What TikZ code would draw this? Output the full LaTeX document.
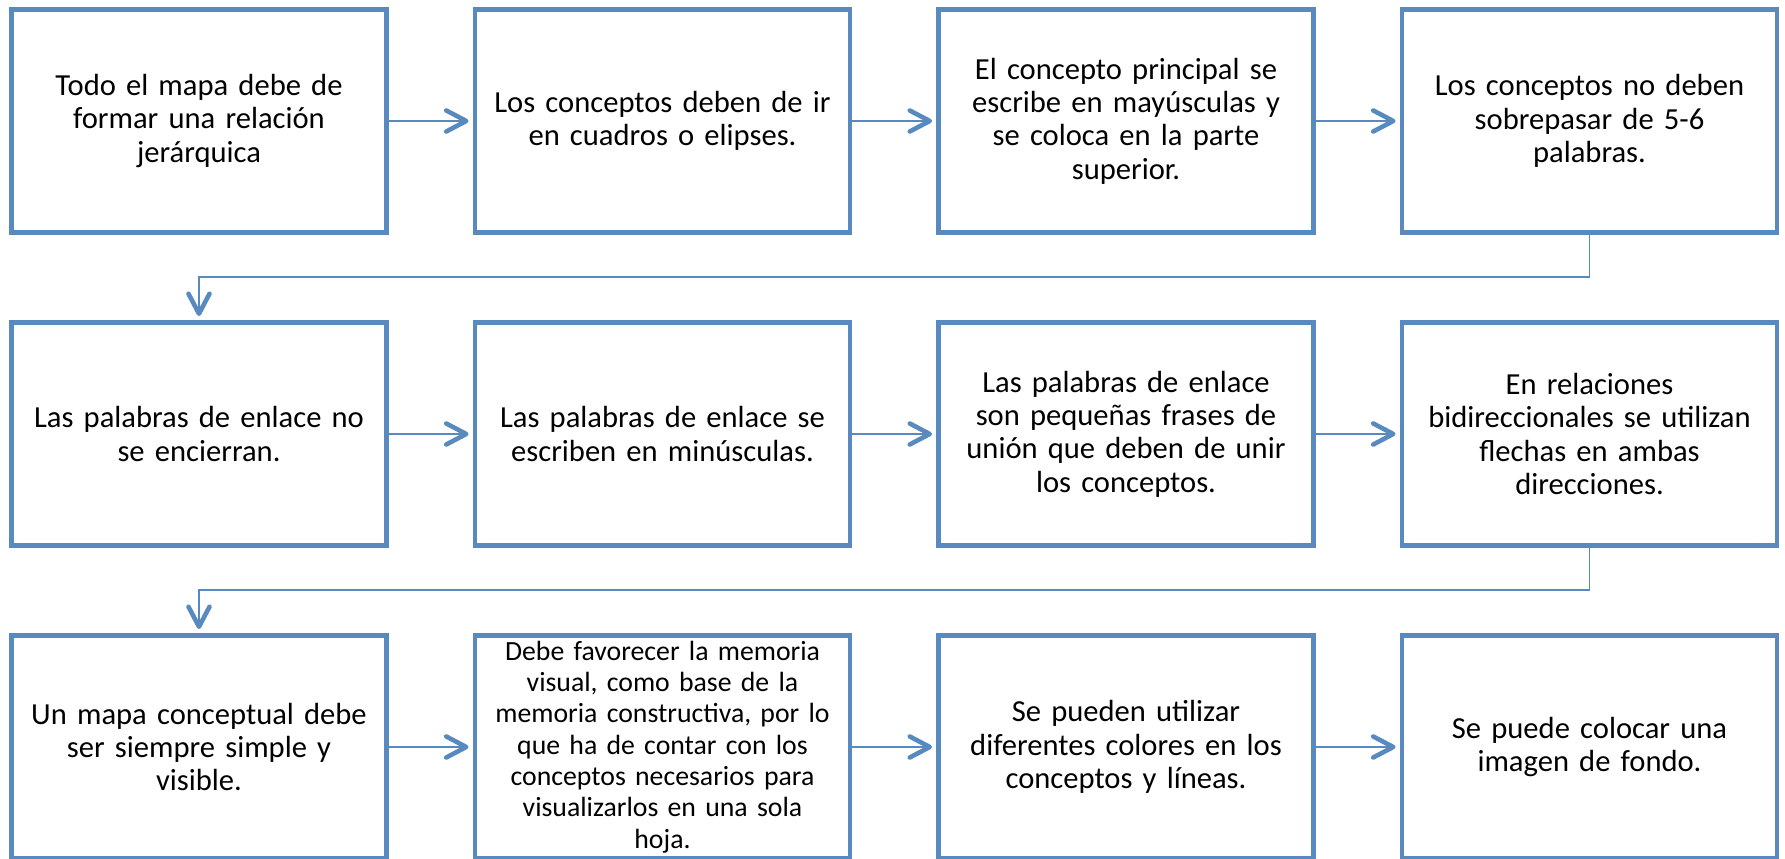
\documentclass[tikz,border=0pt]{standalone}
\usepackage{fontspec}
\setmainfont{Carlito}
\usepackage{tikz}
\usetikzlibrary{positioning,arrows.meta}
\definecolor{mapblue}{RGB}{88,138,192}
\tikzset{
  flow/.style={-{Straight Barb[length=4mm, width=4.2mm, line width=2.6pt, round]},
    line width=1.1pt, draw=mapblue, shorten >=0.08cm},
  concept/.style={draw=mapblue, fill=white, line width=2.8pt,
    minimum width=7.5cm, minimum height=4.46cm, text width=7.3cm,
    align=center, inner sep=0pt, font=\fontsize{17.4}{19}\selectfont}
}

\begin{document}
\begin{tikzpicture}
  \useasboundingbox (0,0) rectangle (35.7,17.18);

  % first row
  \node[concept] (jerarquia) at (3.98,14.76)
    {Todo el mapa debe de\\formar una relación\\jerárquica};
  \node[concept] (elipses) at (13.25,14.76)
    {Los conceptos deben de ir\\en cuadros o elipses.};
  \node[concept] (mayusculas) at (22.52,14.76)
    {El concepto principal se\\escribe en mayúsculas y\\se coloca en la parte\\superior.};
  \node[concept] (palabras) at (31.79,14.76)
    {Los conceptos no deben\\sobrepasar de 5-6\\palabras.};
  \draw[flow] (jerarquia) -- (elipses);
  \draw[flow] (elipses) -- (mayusculas);
  \draw[flow] (mayusculas) -- (palabras);

  % second row
  \node[concept] (enlace) at (3.98,8.50)
    {Las palabras de enlace no\\se encierran.};
  \node[concept] (minusculas) at (13.25,8.50)
    {Las palabras de enlace se\\escriben en minúsculas.};
  \node[concept] (frases) at (22.52,8.50)
    {Las palabras de enlace\\son pequeñas frases de\\unión que deben de unir\\los conceptos.};
  \node[concept] (flechas) at (31.79,8.50)
    {En relaciones\\bidireccionales se utilizan\\flechas en ambas\\direcciones.};
  \draw[flow] (palabras.south) -- ++(0,-0.84) -| (enlace.north);
  \draw[flow] (enlace) -- (minusculas);
  \draw[flow] (minusculas) -- (frases);
  \draw[flow] (frases) -- (flechas);

  % third row
  \node[concept] (simple) at (3.98,2.24)
    {Un mapa conceptual debe\\ser siempre simple y\\visible.};
  \node[concept, font=\fontsize{15.8}{17.8}\selectfont] (memoria) at (13.25,2.24)
    {Debe favorecer la memoria\\visual, como base de la\\memoria constructiva, por lo\\que ha de contar con los\\conceptos necesarios para\\visualizarlos en una sola\\hoja.};
  \node[concept] (colores) at (22.52,2.24)
    {Se pueden utilizar\\diferentes colores en los\\conceptos y líneas.};
  \node[concept] (fondo) at (31.79,2.24)
    {Se puede colocar una\\imagen de fondo.};
  \draw[flow] (flechas.south) -- ++(0,-0.84) -| (simple.north);
  \draw[flow] (simple) -- (memoria);
  \draw[flow] (memoria) -- (colores);
  \draw[flow] (colores) -- (fondo);
\end{tikzpicture}
\end{document}
